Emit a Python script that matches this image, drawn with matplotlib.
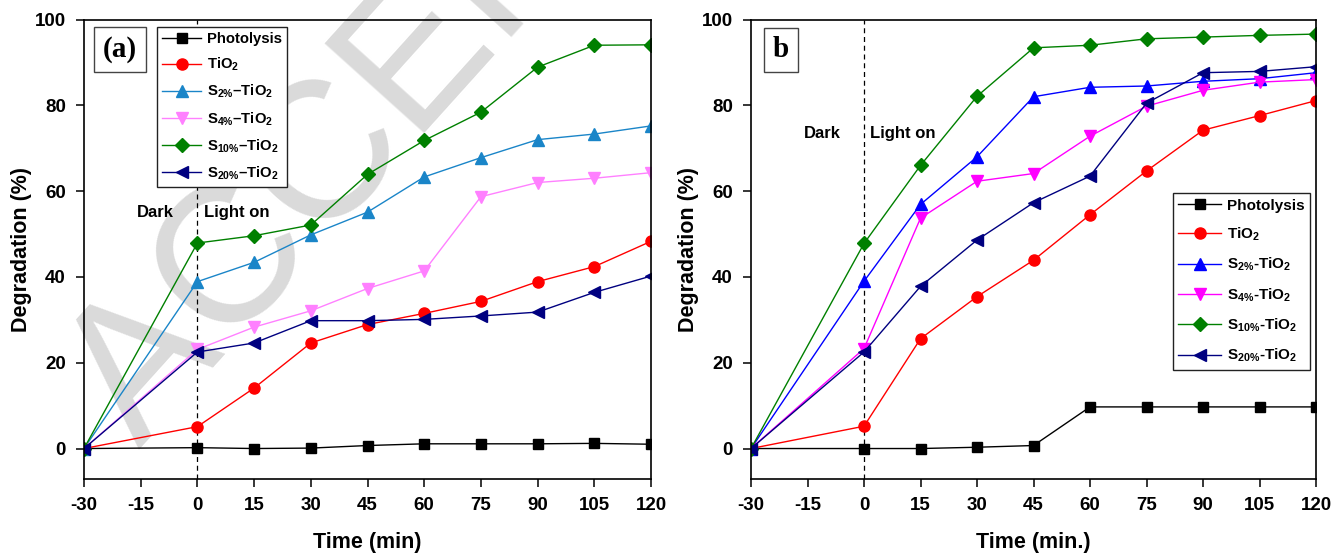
import matplotlib
matplotlib.use("Agg")
import matplotlib.pyplot as plt

plt.rcParams['font.family'] = ['Liberation Sans', 'DejaVu Sans']
plt.rcParams['font.weight'] = 'bold'
plt.rcParams['axes.unicode_minus'] = False
plt.rcParams['mathtext.fontset'] = 'custom'
plt.rcParams['mathtext.rm'] = 'Liberation Sans:bold'
plt.rcParams['mathtext.it'] = 'Liberation Sans:bold'
plt.rcParams['mathtext.bf'] = 'Liberation Sans:bold'
plt.rcParams['mathtext.default'] = 'rm'

# time axis (min)
time = [-30, 0, 15, 30, 45, 60, 75, 90, 105, 120]

# panel (a)
a_photolysis = [0, 0.2, 0.0, 0.1, 0.7, 1.1, 1.1, 1.1, 1.2, 1.0]
a_tio2 = [0, 5.1, 14.1, 24.6, 28.9, 31.5, 34.3, 38.9, 42.4, 48.3]
a_s2 = [0, 38.9, 43.4, 49.8, 55.1, 63.3, 67.8, 72.0, 73.3, 75.2]
a_s4 = [0, 23.1, 28.3, 32.1, 37.3, 41.4, 58.7, 62.0, 63.0, 64.3]
a_s10 = [0, 47.9, 49.6, 52.1, 63.9, 71.8, 78.4, 88.9, 94.0, 94.1]
a_s20 = [0, 22.5, 24.6, 29.8, 29.8, 30.1, 30.9, 31.8, 36.4, 40.2]

# panel (b)
b_photolysis = [0, 0.0, 0.0, 0.3, 0.7, 9.7, 9.7, 9.7, 9.7, 9.7]
b_tio2 = [0, 5.2, 25.6, 35.4, 43.9, 54.5, 64.7, 74.2, 77.6, 81.1]
b_s2 = [0, 39.0, 56.9, 68.0, 82.0, 84.2, 84.5, 85.6, 86.2, 87.6]
b_s4 = [0, 23.3, 53.7, 62.3, 64.1, 72.8, 79.8, 83.5, 85.4, 86.0]
b_s10 = [0, 47.8, 66.0, 82.1, 93.4, 94.0, 95.5, 95.9, 96.3, 96.6]
b_s20 = [0, 22.5, 37.8, 48.6, 57.3, 63.5, 80.5, 87.6, 87.9, 89.0]

labels_a = ['Photolysis', 'TiO$_2$', 'S$_{2\\%}$\u2013TiO$_2$', 'S$_{4\\%}$\u2013TiO$_2$',
            'S$_{10\\%}$\u2013TiO$_2$', 'S$_{20\\%}$\u2013TiO$_2$']
labels_b = ['Photolysis', 'TiO$_2$', 'S$_{2\\%}$-TiO$_2$', 'S$_{4\\%}$-TiO$_2$',
            'S$_{10\\%}$-TiO$_2$', 'S$_{20\\%}$-TiO$_2$']
markers = ['s', 'o', '^', 'v', 'D', '<']
msizes = [7, 8, 8.5, 8.5, 7, 8.5]
colors_a = ['black', 'red', '#1a85c8', '#ff80ff', 'green', '#000080']
colors_b = ['black', 'red', 'blue', 'magenta', 'green', '#000080']

fig = plt.figure(figsize=(13.44, 5.54), dpi=100)

# journal watermark (light grey, behind the left panel)
fig.text(140 / 1344, 1 - 450 / 554, 'ACCEPTED MANUSCRIPT', fontsize=140, fontweight='normal',
         rotation=48, rotation_mode='anchor', ha='left', va='baseline',
         color='#dadada', zorder=-1)

ax1 = fig.add_axes([0.0625, 0.1354, 0.4219, 0.8294])
ax2 = fig.add_axes([0.5588, 0.1354, 0.4204, 0.8294])


def draw_panel(ax, series, labels, colors, tag, xlab, leg_anchor, leg_font, leg_spacing,
               leg_handle, dark_y, tag_pos):
    ax.set_facecolor('none')
    for ys, lab, c, m, ms in zip(series, labels, colors, markers, msizes):
        ax.plot(time, ys, color=c, marker=m, markersize=ms, lw=1.0, label=lab)
    ax.axvline(0, color='black', ls='--', lw=0.9, dashes=(4, 3), zorder=0)
    ax.set_xlim(-30, 120)
    ax.set_ylim(-7.1, 100)
    ax.set_xticks(range(-30, 121, 15))
    ax.set_yticks(range(0, 101, 20))
    ax.tick_params(direction='out', length=6, width=1.1, labelsize=13.5, pad=7)
    for s in ax.spines.values():
        s.set_linewidth(1.2)
    ax.set_xlabel(xlab, fontsize=15.5, fontweight='bold', labelpad=13)
    ax.set_ylabel('Degradation (%)', fontsize=15.5, fontweight='bold', labelpad=2)
    ax.text(-11.2, dark_y, 'Dark', fontsize=12, fontweight='bold', ha='center', va='center')
    ax.text(1.7, dark_y, 'Light on', fontsize=12, fontweight='bold', ha='left', va='center')
    ax.text(tag_pos[0], tag_pos[1], tag, transform=ax.transAxes, fontsize=21,
            fontweight='bold', family='Liberation Serif', ha='center', va='center',
            bbox=dict(boxstyle='square,pad=0.3', fc='white', ec='#444444', lw=1.0))
    leg = ax.legend(loc='upper left', bbox_to_anchor=leg_anchor, borderaxespad=0,
                    fontsize=leg_font, numpoints=1, labelspacing=leg_spacing,
                    handlelength=leg_handle, handletextpad=0.4, borderpad=0.35,
                    fancybox=False, edgecolor='#222222', framealpha=1)
    leg.get_frame().set_linewidth(1.0)


draw_panel(ax1, [a_photolysis, a_tio2, a_s2, a_s4, a_s10, a_s20], labels_a, colors_a,
           '(a)', 'Time (min)', (0.129, 0.984), 10.7, 0.66, 2.6, 55.0, (0.0635, 0.935))
draw_panel(ax2, [b_photolysis, b_tio2, b_s2, b_s4, b_s10, b_s20], labels_b, colors_b,
           'b', 'Time (min.)', (0.747, 0.622), 11, 0.85, 2.8, 73.5, (0.053, 0.934))

fig.savefig('out.png', dpi=100)
